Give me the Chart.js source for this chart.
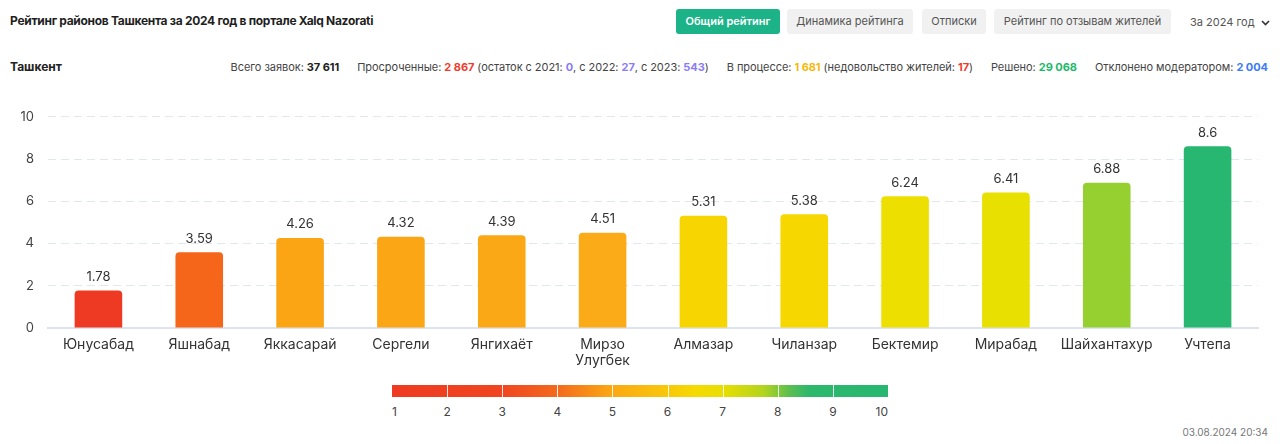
<!DOCTYPE html>
<html lang="ru">
<head>
<meta charset="utf-8">
<title>Рейтинг районов Ташкента</title>
<script src="https://cdn.jsdelivr.net/npm/chart.js@4.4.1/dist/chart.umd.min.js"></script>
<style>
    body {
        margin: 0;
        width: 1280px;
        height: 444px;
        background: #fff;
        font-family: "Inter", "Noto Sans", sans-serif;
        color: #222;
        position: relative;
        overflow: hidden;
    }
    .title {
        position: absolute;
        left: 10px;
        top: 13px;
        font-size: 12px;
        font-weight: 700;
        letter-spacing: -0.3px;
        color: #1f1f1f;
        white-space: nowrap;
    }
    .tab {
        position: absolute;
        top: 9px;
        height: 25px;
        line-height: 25px;
        text-align: center;
        border-radius: 3px;
        background: #f1f1f1;
        color: #555;
        font-size: 11px;
        white-space: nowrap;
    }
    .tab.active {
        background: #1bb387;
        color: #fff;
        font-weight: 600;
    }
    .year {
        position: absolute;
        left: 1190px;
        top: 15px;
        font-size: 11px;
        color: #555;
        white-space: nowrap;
    }
    .year svg { margin-left: 6px; vertical-align: middle; }
    .city {
        position: absolute;
        left: 10px;
        top: 59px;
        font-size: 12px;
        font-weight: 700;
    }
    .stats {
        position: absolute;
        right: 12px;
        top: 60px;
        display: flex;
        gap: 18px;
        font-size: 11px;
        letter-spacing: -0.05px;
        color: #444;
        white-space: nowrap;
    }
    .stats b { font-weight: 700; color: #222; }
    .red { color: #ef3b2d; font-weight: 700; }
    .violet { color: #8b7cf6; font-weight: 700; }
    .yellow { color: #f6b90f; font-weight: 700; }
    .green { color: #1db96a; font-weight: 700; }
    .blue { color: #3b7bf6; font-weight: 700; }
    #chartBox {
        position: absolute;
        left: 0;
        top: 95px;
        width: 1280px;
        height: 280px;
    }
    .scale {
        position: absolute;
        left: 392px;
        top: 385px;
        width: 496px;
        height: 12px;
        background: linear-gradient(to right,
            #ee3a22 0%, #f04520 22%, #f36a1d 33.3%, #fba814 44.4%,
            #f8c80a 55.6%, #f5da00 61%, #e9de00 66.7%, #b2d41f 75%,
            #5dbf4f 80%, #2db86c 84%, #27b770 100%);
    }
    .scale i {
        position: absolute;
        top: 0;
        width: 1px;
        height: 12px;
        background: rgba(255,255,255,0.85);
    }
    .scale span {
        position: absolute;
        top: 19px;
        font-size: 12px;
        color: #444;
        transform: translateX(-50%);
    }
    .stamp {
        position: absolute;
        right: 12px;
        top: 426px;
        font-size: 10px;
        color: #777;
    }
</style>
</head>
<body>
<div class="title">Рейтинг районов Ташкента за 2024 год в портале Xalq Nazorati</div>
<div class="tab active" style="left:676px;width:104px">Общий рейтинг</div>
<div class="tab" style="left:787px;width:126px">Динамика рейтинга</div>
<div class="tab" style="left:922px;width:64px">Отписки</div>
<div class="tab" style="left:994px;width:177px">Рейтинг по отзывам жителей</div>
<div class="year">За 2024 год<svg width="9" height="6" viewBox="0 0 9 6"><polyline points="1,1 4.5,4.5 8,1" fill="none" stroke="#333" stroke-width="1.6"/></svg></div>

<div class="city">Ташкент</div>
<div class="stats">
    <span>Всего заявок: <b>37 611</b></span>
    <span>Просроченные: <span class="red">2 867</span> (остаток с 2021: <span class="violet">0</span>, с 2022: <span class="violet">27</span>, с 2023: <span class="violet">543</span>)</span>
    <span>В процессе: <span class="yellow">1 681</span> (недовольство жителей: <span class="red">17</span>)</span>
    <span>Решено: <span class="green">29 068</span></span>
    <span>Отклонено модератором: <span class="blue">2 004</span></span>
</div>

<div id="chartBox"><canvas id="ratingChart"></canvas></div>

<div class="scale" id="scale"></div>
<div class="stamp">03.08.2024 20:34</div>

<script>
const districts = [
    "Юнусабад", "Яшнабад", "Яккасарай", "Сергели", "Янгихаёт", ["Мирзо", "Улугбек"],
    "Алмазар", "Чиланзар", "Бектемир", "Мирабад", "Шайхантахур", "Учтепа"
];
const ratings = [1.78, 3.59, 4.26, 4.32, 4.39, 4.51, 5.31, 5.38, 6.24, 6.41, 6.88, 8.6];
const barColors = [
    "#ee3a22", "#f5661b", "#fba414", "#fba614", "#fba816", "#fbab17",
    "#f7d500", "#f7d700", "#ede000", "#e7e000", "#95cf30", "#27b770"
];
const scaleSteps = [1, 2, 3, 4, 5, 6, 7, 8, 9, 10];

/* ============================
   COLOR SCALE UNDER THE CHART
============================ */
const scaleBox = document.getElementById("scale");
scaleSteps.forEach((s, i) => {
    const pos = i / (scaleSteps.length - 1) * 100;
    if (i > 0 && i < scaleSteps.length - 1) {
        const line = document.createElement("i");
        line.style.left = pos + "%";
        scaleBox.appendChild(line);
    }
    const label = document.createElement("span");
    label.textContent = s;
    label.style.left = pos + "%";
    if (i === 0) label.style.transform = "translateX(0)";
    if (i === scaleSteps.length - 1) label.style.transform = "translateX(-100%)";
    scaleBox.appendChild(label);
});

/* ============================
   VALUES ABOVE THE BARS
============================ */
const valueLabels = {
    id: "valueLabels",
    afterDatasetsDraw(chart) {
        const ctx = chart.ctx;
        const meta = chart.getDatasetMeta(0);
        ctx.save();
        ctx.font = "13px Inter, 'Noto Sans', sans-serif";
        ctx.fillStyle = "#333";
        ctx.textAlign = "center";
        ctx.textBaseline = "bottom";
        meta.data.forEach((bar, i) => {
            ctx.fillText(String(ratings[i]), bar.x, bar.y - 7);
        });
        ctx.restore();
    }
};

const ctx = document.getElementById("ratingChart").getContext("2d");

new Chart(ctx, {
    type: "bar",
    data: {
        labels: districts,
        datasets: [{
            data: ratings,
            backgroundColor: barColors,
            borderRadius: { topLeft: 4, topRight: 4 },
            borderSkipped: "bottom",
            barPercentage: 0.59,
            categoryPercentage: 0.8
        }]
    },
    options: {
        responsive: true,
        maintainAspectRatio: false,
        animation: false,
        layout: { padding: { top: 17, right: 22, left: 0, bottom: 0 } },
        plugins: {
            legend: { display: false },
            tooltip: { enabled: false }
        },
        scales: {
            x: {
                grid: { display: false, drawTicks: false },
                border: { display: true, color: "#dde3ef", width: 2 },
                ticks: {
                    color: "#333",
                    padding: 8,
                    autoSkip: false,
                    font: { size: 14, family: "Inter, 'Noto Sans', sans-serif" },
                    maxRotation: 0
                },
                afterFit(scale) { scale.height = 47; }
            },
            y: {
                min: 0,
                max: 10,
                grid: {
                    color: c => c.tick && c.tick.value === 0 ? "transparent" : "#e2e6ef",
                    drawTicks: false
                },
                border: { display: false, dash: [8, 5] },
                ticks: {
                    stepSize: 2,
                    color: "#444",
                    padding: 14,
                    font: { size: 13, family: "Inter, 'Noto Sans', sans-serif" }
                },
                afterFit(scale) { scale.width = 48; }
            }
        }
    },
    plugins: [valueLabels]
});
</script>
</body>
</html>
